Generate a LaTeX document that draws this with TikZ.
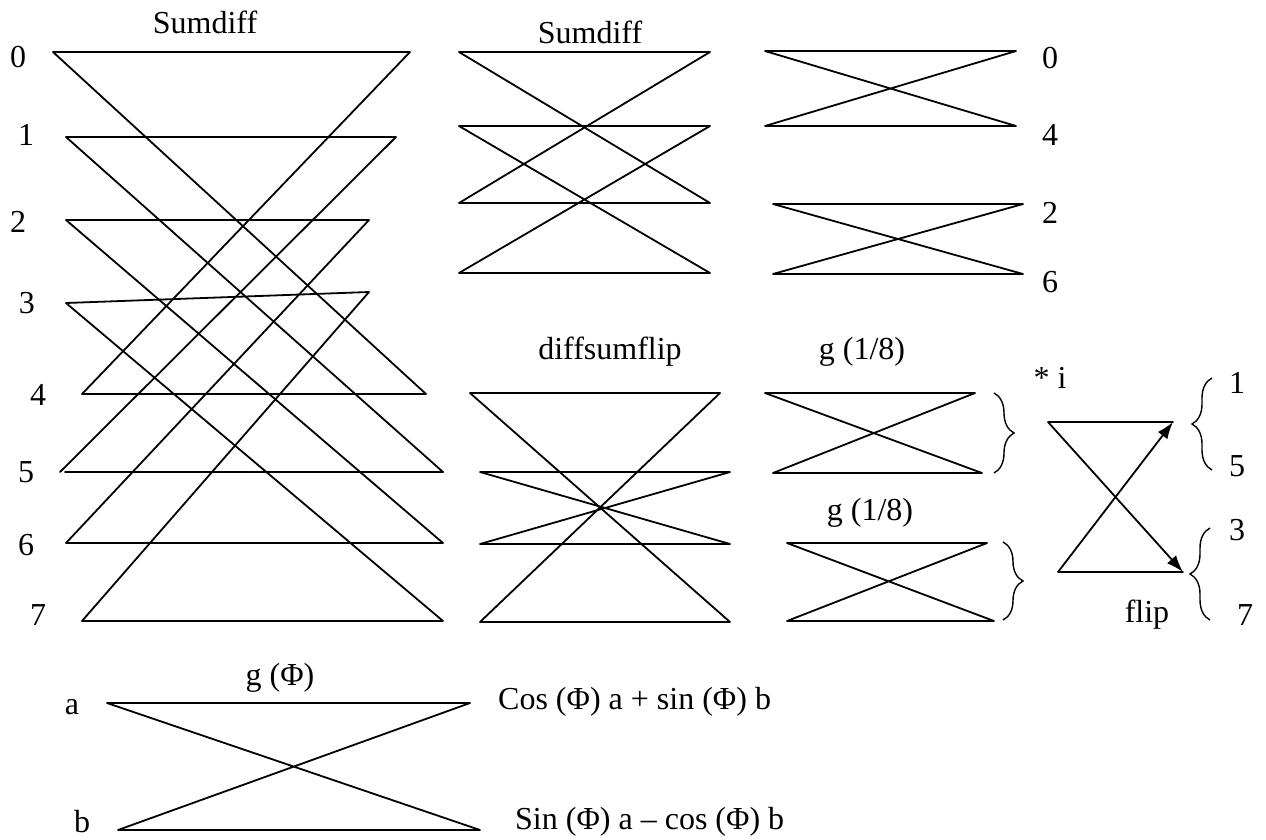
\documentclass[tikz,border=0pt]{standalone}
\usepackage{fontspec}
\setmainfont{Liberation Serif}
\usetikzlibrary{arrows.meta,decorations.pathreplacing}
\begin{document}
\begin{tikzpicture}[x=1pt,y=-1pt,
  ln/.style={line width=1.8pt, line cap=round, line join=round},
  lbl/.style={font=\fontsize{32}{38}\selectfont, inner sep=0pt},
  arr/.style={line width=1.8pt, -{Latex[length=17pt,width=12pt]}},
  rbr/.style={line width=1.4pt, decorate, decoration={brace, amplitude=20pt}},
]
\useasboundingbox (0,0) rectangle (1266,839);

% ---- left Sumdiff (8 lines)
\coordinate (L0l) at (53,52);  \coordinate (L0r) at (410,52);
\coordinate (L1l) at (66,137); \coordinate (L1r) at (396,137);
\coordinate (L2l) at (66,220); \coordinate (L2r) at (369,220);
\coordinate (L3l) at (66,303); \coordinate (L3r) at (369,292);
\coordinate (L4l) at (82,394); \coordinate (L4r) at (426,394);
\coordinate (L5l) at (65,472); \coordinate (L5d) at (60,472); \coordinate (L5r) at (443,472);
\coordinate (L6l) at (66,543); \coordinate (L6r) at (443,543);
\coordinate (L7l) at (82,621); \coordinate (L7r) at (443,621);
\draw[ln] (L4r) -- (L0l) -- (L0r) -- (L4l) -- (L4r);
\draw[ln] (L5r) -- (L1l) -- (L1r) -- (L5d);
\draw[ln] (L5l) -- (L5r);
\draw[ln] (L6r) -- (L2l) -- (L2r) -- (L6l) -- (L6r);
\draw[ln] (L7r) -- (L3l) -- (L3r) -- (L7l) -- (L7r);

\node[lbl] (tS1) at (205,22) {Sumdiff};
\node[lbl] (n0) at (18,57) {0};
\node[lbl] (n1) at (26,135) {1};
\node[lbl] (n2) at (18,222) {2};
\node[lbl] (n3) at (27,303) {3};
\node[lbl] (n4) at (38,395) {4};
\node[lbl] (n5) at (26,472) {5};
\node[lbl] (n6) at (26,545) {6};
\node[lbl] (n7) at (38,615) {7};

% ---- middle Sumdiff
\coordinate (M0l) at (459,52);  \coordinate (M0r) at (710,52);
\coordinate (M1l) at (459,126); \coordinate (M1r) at (710,126);
\coordinate (M2l) at (459,203); \coordinate (M2r) at (710,203);
\coordinate (M3l) at (459,273); \coordinate (M3r) at (710,273);
\draw[ln] (M2r) -- (M0l) -- (M0r) -- (M2l) -- (M2r);
\draw[ln] (M3r) -- (M1l) -- (M1r) -- (M3l) -- (M3r);
\node[lbl] (tS2) at (590,32) {Sumdiff};

% ---- right top pairs
\coordinate (R0l) at (765,51);  \coordinate (R0r) at (1016,51);
\coordinate (R4l) at (765,126); \coordinate (R4r) at (1016,126);
\coordinate (R2l) at (773,204); \coordinate (R2r) at (1023,204);
\coordinate (R6l) at (773,274); \coordinate (R6r) at (1023,274);
\draw[ln] (R4r) -- (R0l) -- (R0r) -- (R4l) -- (R4r);
\draw[ln] (R6r) -- (R2l) -- (R2r) -- (R6l) -- (R6r);
\node[lbl] (o0) at (1050,58) {0};
\node[lbl] (o4) at (1050,135) {4};
\node[lbl] (o2) at (1050,213) {2};
\node[lbl] (o6) at (1050,282) {6};

% ---- diffsumflip
\coordinate (D1l) at (470,393); \coordinate (D1r) at (720,393);
\coordinate (D2l) at (480,472); \coordinate (D2r) at (730,472);
\coordinate (D3l) at (480,544); \coordinate (D3r) at (730,544);
\coordinate (D4l) at (480,622); \coordinate (D4r) at (730,622);
\draw[ln] (D4r) -- (D1l) -- (D1r) -- (D4l) -- (D4r);
\draw[ln] (D3r) -- (D2l) -- (D2r) -- (D3l) -- (D3r);
\node[lbl] (tD) at (610,352) {diffsumflip};

% ---- g(1/8) pairs
\coordinate (G1l) at (765,393); \coordinate (G1r) at (975,393);
\coordinate (G2l) at (773,473); \coordinate (G2r) at (982,473);
\draw[ln] (G2r) -- (G1l) -- (G1r) -- (G2l) -- (G2r);
\node[lbl] (tG1) at (862,352) {g (1/8)};
\coordinate (H1l) at (787,543); \coordinate (H1r) at (987,543);
\coordinate (H2l) at (787,621); \coordinate (H2r) at (994,621);
\draw[ln] (H2r) -- (H1l) -- (H1r) -- (H2l) -- (H2r);
\node[lbl] (tG2) at (870,513) {g (1/8)};

% braces
\coordinate (B1t) at (994,393); \coordinate (B1b) at (994,473);
\draw[rbr] (B1t) -- (B1b);
\coordinate (B2t) at (1003,542); \coordinate (B2b) at (1003,620);
\draw[rbr] (B2t) -- (B2b);

% ---- flip
\node[lbl] (ti) at (1050,378) {* i};
\coordinate (F1l) at (1048,422); \coordinate (F1r) at (1173,422);
\coordinate (F2l) at (1058,572); \coordinate (F2r) at (1183,572);
\draw[ln] (F1l) -- (F1r);
\draw[ln] (F2l) -- (F2r);
\draw[arr] (F1l) -- (F2r);
\draw[arr] (F2l) -- (F1r);
\node[lbl] (tflip) at (1147,615) {flip};

\coordinate (C1t) at (1212,378); \coordinate (C1b) at (1212,470);
\draw[rbr] (C1b) -- (C1t);
\coordinate (C2t) at (1210,528); \coordinate (C2b) at (1210,620);
\draw[rbr] (C2b) -- (C2t);
\node[lbl] (p1) at (1237,383) {1};
\node[lbl] (p5) at (1237,466) {5};
\node[lbl] (p3) at (1237,530) {3};
\node[lbl] (p7) at (1245,615) {7};

% ---- g(Phi)
\coordinate (Al) at (107,703); \coordinate (Ar) at (470,703);
\coordinate (Bl) at (118,830); \coordinate (Br) at (480,830);
\draw[ln] (Br) -- (Al) -- (Ar) -- (Bl) -- (Br);
\node[lbl] (tg) at (280,678) {g (Φ)};
\node[lbl] (ta) at (72,707) {a};
\node[lbl] (tb) at (82,822) {b};
\node[lbl, anchor=west] (tcos) at (498,702) {Cos (Φ) a + sin (Φ) b};
\node[lbl, anchor=west] (tsin) at (515,822) {Sin (Φ) a – cos (Φ) b};
\end{tikzpicture}
\end{document}
